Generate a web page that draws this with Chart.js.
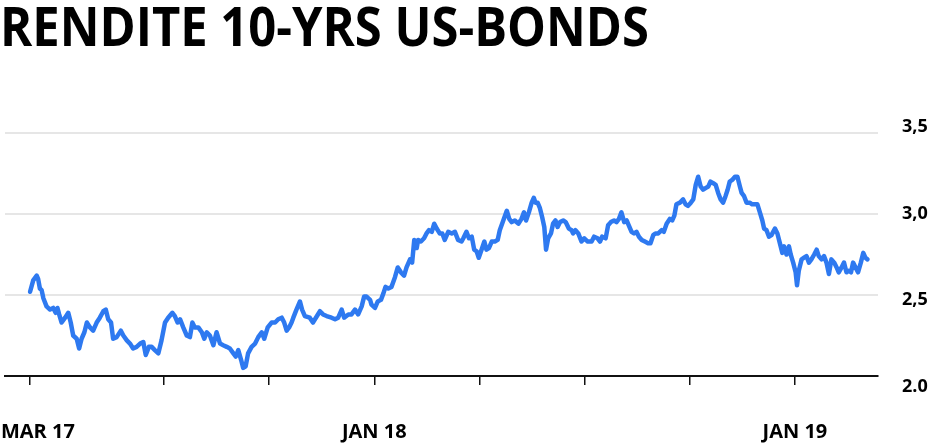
<!DOCTYPE html>
<html>
<head>
<meta charset="utf-8">
<script src="https://cdn.jsdelivr.net/npm/chart.js@4.4.1/dist/chart.umd.min.js"></script>
<style>
    html, body { margin: 0; padding: 0; background: #fff; }
    #wrap { position: relative; width: 940px; height: 448px; }
    #title {
        position: absolute; left: 0; top: -12px;
        font-family: 'Open Sans', sans-serif; font-weight: 700; font-size: 54px;
        color: #000; white-space: nowrap; transform-origin: 0 0; transform: scaleX(0.906);
    }
    canvas { position: absolute; left: 0; top: 0; }
</style>
</head>
<body>
<div id="wrap">
    <div id="title">RENDITE 10-YRS US-BONDS</div>
    <canvas id="chart" width="940" height="448"></canvas>
</div>
<script>
// Months since Jan 2017
const months = [
    2.18,2.27,2.37,2.41,2.46,2.51,2.56,2.65,2.75,2.84,2.91,2.96,3.01,3.08,3.18,3.27,3.34,3.41,3.51,3.58,
    3.65,3.73,3.80,3.89,3.98,4.08,4.17,4.27,4.34,4.41,4.49,4.55,4.65,4.77,4.84,4.94,5.03,5.12,5.22,5.32,
    5.41,5.48,5.57,5.65,5.74,5.84,5.93,
    6.03,6.12,6.24,6.31,6.39,6.46,6.55,6.65,6.74,6.81,6.88,6.98,7.08,7.15,7.22,7.31,7.41,7.50,7.60,7.69,
    7.79,7.88,7.98,8.05,8.12,8.20,8.26,8.33,8.40,8.50,8.60,8.69,8.79,8.86,8.96,9.07,9.17,9.26,9.36,9.43,
    9.50,9.57,9.64,9.69,9.78,9.88,9.94,10.02,
    10.16,10.25,10.45,10.54,10.64,10.78,10.88,10.97,11.07,11.14,11.26,11.35,11.45,11.54,11.64,11.71,11.78,11.88,11.92,12.02,
    12.10,12.19,12.26,12.32,12.40,12.49,12.59,12.67,12.76,12.85,12.92,13.02,13.08,13.14,13.21,13.25,13.33,13.42,13.49,13.56,
    13.64,13.71,13.78,13.87,13.94,14.01,
    14.11,14.21,14.30,14.39,14.49,14.54,14.63,14.70,14.78,14.85,14.92,14.98,15.06,15.14,15.20,15.27,15.35,15.44,15.52,15.58,
    15.68,15.78,15.85,15.92,16.01,16.11,16.20,16.27,16.33,16.41,16.49,16.55,16.60,16.66,16.72,16.79,16.85,16.90,16.96,17.04,
    17.10,17.17,17.23,17.30,17.39,17.46,17.55,17.63,17.67,17.74,17.82,17.91,17.99,18.09,
    18.20,18.27,18.37,18.44,18.50,18.60,18.67,18.75,18.84,18.91,18.98,19.05,19.13,19.20,19.26,19.34,19.41,19.48,19.55,19.63,
    19.72,19.81,19.88,19.96,20.02,20.10,20.20,20.26,20.34,20.43,20.50,20.56,20.62,20.72,20.81,20.88,20.95,21.03,21.10,21.17,
    21.24,21.31,21.38,21.45,21.53,21.59,21.67,21.74,21.81,21.88,21.95,22.02,
    22.08,22.14,22.21,22.29,22.36,22.43,22.48,22.55,22.62,22.71,22.78,22.86,22.93,23.00,23.07,23.12,23.19,23.26,23.33,23.43,
    23.50,23.57,23.64,23.69,23.76,23.83,23.88,23.95,24.02,24.06,24.11,24.19,24.26,24.33,24.40,24.47,24.55,24.62,24.68,24.76,
    24.83,24.90,24.97,25.04,25.12,25.19,25.25,25.33,25.40,25.47,25.54,25.60,25.66,25.73,25.80,25.88,25.95,26.01,26.07
];

// 10-year US treasury yield, percent
const yields = [
    2.52,2.59,2.62,2.60,2.54,2.53,2.48,2.43,2.41,2.42,2.39,2.42,2.38,2.33,2.36,2.39,2.33,2.25,2.23,2.17,
    2.23,2.27,2.33,2.30,2.28,2.33,2.36,2.40,2.41,2.35,2.33,2.23,2.24,2.28,2.25,2.22,2.20,2.17,2.18,2.20,
    2.21,2.13,2.18,2.18,2.16,2.14,2.22,
    2.33,2.36,2.39,2.37,2.33,2.35,2.30,2.25,2.24,2.33,2.30,2.30,2.27,2.23,2.27,2.25,2.19,2.27,2.20,2.19,
    2.18,2.17,2.14,2.12,2.16,2.10,2.05,2.06,2.14,2.18,2.20,2.24,2.27,2.23,2.30,2.33,2.33,2.35,2.36,2.33,
    2.28,2.30,2.33,2.36,2.41,2.46,2.41,2.37,
    2.36,2.33,2.40,2.38,2.37,2.36,2.35,2.36,2.41,2.36,2.38,2.38,2.41,2.38,2.43,2.49,2.49,2.47,2.44,2.42,
    2.46,2.47,2.51,2.55,2.54,2.55,2.61,2.67,2.64,2.62,2.67,2.72,2.70,2.84,2.79,2.84,2.83,2.85,2.88,2.90,
    2.89,2.94,2.91,2.88,2.88,2.84,
    2.89,2.88,2.89,2.84,2.83,2.85,2.89,2.85,2.86,2.78,2.77,2.73,2.78,2.83,2.78,2.79,2.83,2.83,2.84,2.90,
    2.96,3.02,2.97,2.95,2.96,2.94,2.97,3.01,2.96,3.01,3.07,3.10,3.07,3.07,3.04,2.98,2.92,2.78,2.85,2.88,
    2.94,2.96,2.92,2.95,2.96,2.95,2.91,2.90,2.88,2.90,2.88,2.83,2.85,2.83,
    2.83,2.86,2.85,2.83,2.86,2.85,2.93,2.95,2.96,2.95,2.97,3.01,2.95,2.96,2.93,2.89,2.88,2.89,2.86,2.84,
    2.83,2.82,2.82,2.87,2.88,2.88,2.90,2.89,2.94,2.97,2.96,2.99,3.06,3.07,3.09,3.06,3.05,3.07,3.09,3.18,
    3.23,3.17,3.15,3.16,3.17,3.20,3.19,3.18,3.13,3.09,3.07,3.11,
    3.15,3.20,3.21,3.23,3.23,3.17,3.13,3.11,3.07,3.07,3.06,3.06,3.06,3.01,2.96,2.91,2.90,2.86,2.87,2.91,
    2.88,2.82,2.76,2.80,2.75,2.80,2.75,2.70,2.64,2.56,2.65,2.72,2.73,2.74,2.70,2.72,2.75,2.78,2.74,2.72,
    2.74,2.70,2.63,2.72,2.70,2.67,2.64,2.67,2.70,2.64,2.65,2.64,2.70,2.67,2.64,2.70,2.76,2.73,2.72
];

// x-axis tick positions (months since Jan 2017) and their labels
const xTickMonths = [2.18, 6, 9, 12, 15, 18, 21, 24];
const xTickLabels = ['MAR 17', '', '', 'JAN 18', '', '', '', 'JAN 19'];

// y-axis ticks and labels (as printed in the original)
const yTickValues = [2.0, 2.5, 3.0, 3.5];
const yTickLabels = ['2.0', '2,5', '3,0', '3,5'];

const points = months.map((m, i) => ({ x: m, y: yields[i] }));

new Chart(document.getElementById('chart'), {
    type: 'line',
    data: {
        datasets: [{
            data: points,
            borderColor: '#2e79f0',
            borderWidth: 4.5,
            pointRadius: 0,
            tension: 0,
            borderJoinStyle: 'round',
            borderCapStyle: 'round'
        }]
    },
    options: {
        responsive: false,
        animation: false,
        layout: { padding: { top: 133, left: 5, right: 0, bottom: 0 } },
        plugins: { legend: { display: false }, tooltip: { enabled: false } },
        scales: {
            x: {
                type: 'linear',
                min: 1.465,
                max: 26.37,
                afterBuildTicks: (axis) => { axis.ticks = xTickMonths.map(v => ({ value: v })); },
                afterFit: (axis) => {
                    axis.height = 72;
                    // keep the plot flush with the left edge like the original
                    axis.paddingLeft = 0;
                    axis.paddingRight = 0;
                },
                border: { display: true, color: '#111', width: 2 },
                grid: { drawOnChartArea: false, drawTicks: true, tickLength: 9, color: '#111', lineWidth: 1.5 },
                ticks: {
                    autoSkip: false,
                    maxRotation: 0,
                    padding: 35,
                    color: '#000',
                    font: { family: 'Open Sans', weight: 'bold', size: 20 },
                    // first label sits against the left edge in the original, nudge it in
                    callback: (v, i) => i === 0 ? '\u00a0\u00a0\u00a0' + xTickLabels[i] : xTickLabels[i]
                }
            },
            // value axis: gridlines only
            y: {
                position: 'right',
                min: 2.0,
                max: 3.5,
                afterBuildTicks: (axis) => { axis.ticks = yTickValues.map(v => ({ value: v })); },
                afterFit: (axis) => { axis.width = 0; },
                border: { display: false },
                grid: {
                    drawTicks: false,
                    color: (ctx) => ctx.tick && ctx.tick.value === 2.0 ? 'rgba(0,0,0,0)' : '#e6e6e6',
                    lineWidth: 2
                },
                ticks: { display: false }
            },
            // label axis: in the original the labels sit a bit wider apart than the gridlines
            yLabels: {
                position: 'right',
                min: 2.0635,
                max: 3.4656,
                afterBuildTicks: (axis) => { axis.ticks = yTickValues.map(v => ({ value: v })); },
                afterFit: (axis) => { axis.width = 62; },
                border: { display: false },
                grid: { display: false, drawTicks: false },
                ticks: {
                    padding: 24,
                    color: '#000',
                    font: { family: 'Open Sans', weight: 'bold', size: 18 },
                    callback: (v, i) => yTickLabels[i]
                }
            }
        }
    }
});
</script>
</body>
</html>
